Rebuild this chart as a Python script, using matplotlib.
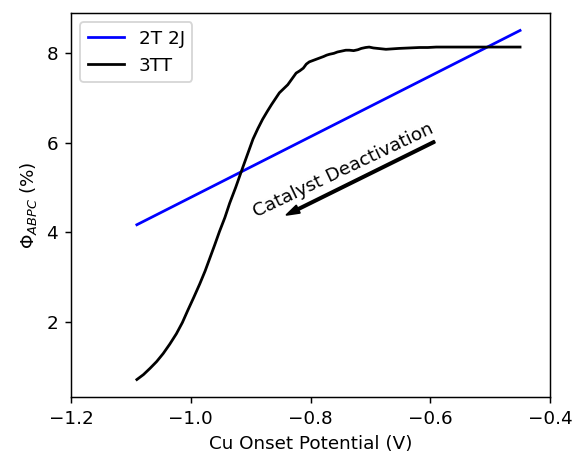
import numpy as np
import matplotlib.pyplot as plt

# 2T 2J - straight line
x_2t2j = [-1.09, -0.45]
y_2t2j = [4.17, 8.50]

# 3TT
x_3tt = [-1.090, -1.079, -1.068, -1.057, -1.046, -1.035, -1.024, -1.014, -1.005,
         -0.995, -0.985, -0.976, -0.968, -0.960, -0.952, -0.943, -0.935, -0.925,
         -0.916, -0.906, -0.896, -0.888, -0.880, -0.872, -0.865, -0.858, -0.852,
         -0.845, -0.838, -0.831, -0.824, -0.818, -0.812, -0.807, -0.802, -0.796,
         -0.790, -0.784, -0.778, -0.773, -0.768, -0.761, -0.755, -0.748, -0.741,
         -0.735, -0.728, -0.721, -0.715, -0.708, -0.702, -0.695, -0.688, -0.681,
         -0.674, -0.663, -0.652, -0.635, -0.618, -0.604, -0.590, -0.576, -0.563,
         -0.546, -0.530, -0.515, -0.500, -0.487, -0.475, -0.462, -0.450]
y_3tt = [0.72, 0.83, 0.97, 1.12, 1.30, 1.51, 1.74, 1.99, 2.26,
         2.55, 2.85, 3.14, 3.43, 3.72, 4.02, 4.33, 4.65, 5.00,
         5.34, 5.71, 6.08, 6.31, 6.52, 6.70, 6.85, 6.99, 7.11,
         7.20, 7.29, 7.42, 7.55, 7.60, 7.66, 7.75, 7.80, 7.83,
         7.86, 7.89, 7.92, 7.95, 7.97, 7.99, 8.02, 8.04, 8.06,
         8.06, 8.05, 8.07, 8.10, 8.12, 8.13, 8.11, 8.10, 8.09,
         8.08, 8.09, 8.10, 8.11, 8.12, 8.12, 8.13, 8.13, 8.13,
         8.13, 8.13, 8.13, 8.13, 8.13, 8.13, 8.13, 8.13]

fig = plt.figure(figsize=(573/132, 466/132), dpi=132)
ax = fig.add_axes([71/573, 69/466, 479/573, 384/466])

ax.plot(x_2t2j, y_2t2j, color='blue', label='2T 2J')
ax.plot(x_3tt, y_3tt, color='black', label='3TT')

ax.annotate('', xy=(-0.840, 4.39), xytext=(-0.593, 6.02),
            arrowprops=dict(facecolor='black', edgecolor='black', width=1.2,
                            headwidth=4.5, headlength=7, shrink=0))
ax.text(-0.745, 5.38, 'Catalyst Deactivation', rotation=25.5,
        rotation_mode='anchor', ha='center', va='center', fontsize=10)

ax.set_xlim(-1.2, -0.4)
ax.set_xticks([-1.2, -1.0, -0.8, -0.6, -0.4])
ax.set_yticks([2, 4, 6, 8])
ax.set_xlabel('Cu Onset Potential (V)')
ax.set_ylabel(r'$\Phi_{ABPC}$ (%)')
ax.legend(loc='upper left')

fig.savefig('out.png', dpi=132)
